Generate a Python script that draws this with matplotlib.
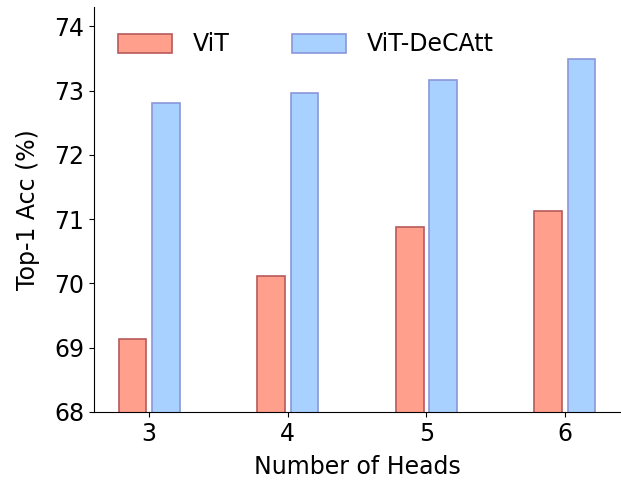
import numpy as np
import matplotlib
matplotlib.use("Agg")
import matplotlib.pyplot as plt

heads = [3, 4, 5, 6]
vit_acc = [69.14, 70.11, 70.87, 71.12]
decatt_acc = [72.80, 72.97, 73.16, 73.50]

plt.rcParams['font.family'] = ['DejaVu Sans']
plt.rcParams['font.size'] = 17

fig = plt.figure(figsize=(6.21, 4.82), dpi=100)
ax = fig.add_axes([0.151, 0.1455, 0.848, 0.8397])

x = np.array(heads, dtype=float)
width = 0.2
ax.bar(x - 0.12, vit_acc, width, color='#ff9f8c', edgecolor='#b85a5a',
       linewidth=1.2, label='ViT')
ax.bar(x + 0.12, decatt_acc, width, color='#a8d1ff', edgecolor='#8a96da',
       linewidth=1.2, label='ViT-DeCAtt')

ax.set_xlim(2.6, 6.4)
ax.set_ylim(68, 74.3)
ax.set_xticks(heads)
ax.set_yticks([68, 69, 70, 71, 72, 73, 74])
ax.set_xlabel('Number of Heads', fontsize=17, labelpad=7)
ax.set_ylabel('Top-1 Acc (%)', fontsize=17, labelpad=10)
ax.tick_params(labelsize=17)

ax.spines['top'].set_visible(False)
ax.spines['right'].set_visible(False)

ax.legend(loc='upper left', bbox_to_anchor=(0.006, 0.99), ncol=2,
          frameon=False, fontsize=17, handlelength=2.3, handleheight=0.85,
          handletextpad=0.85, columnspacing=2.65)

fig.savefig('out.png', dpi=100)
